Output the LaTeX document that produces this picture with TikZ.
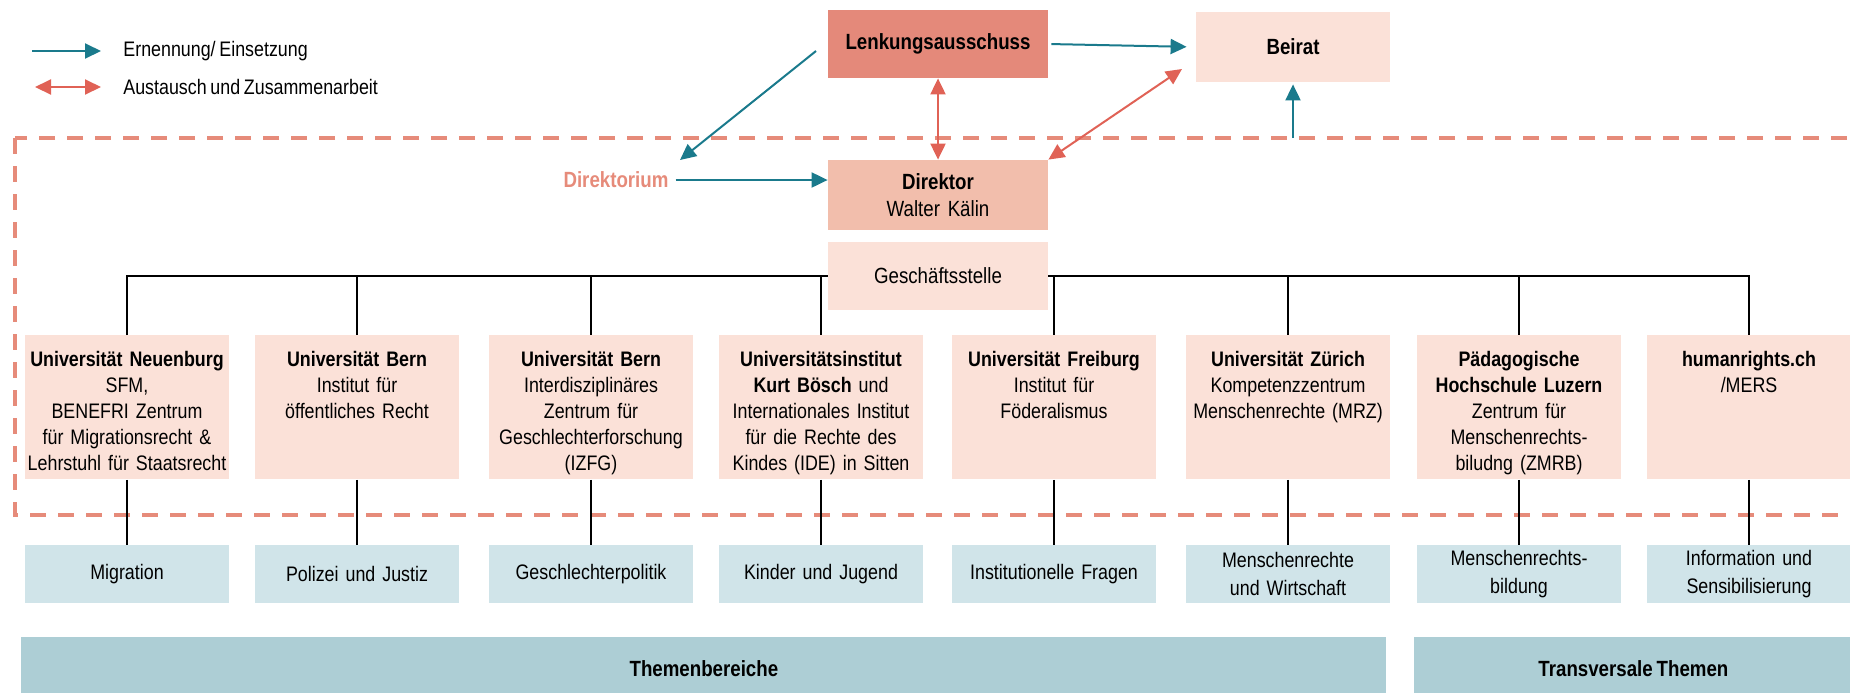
\documentclass[tikz,border=0pt]{standalone}
\usepackage{fontspec}
\setmainfont{Liberation Sans}[FakeStretch=0.85,WordSpace=0.75]
\usetikzlibrary{arrows.meta}
\definecolor{lenkfill}{RGB}{228,137,122}
\definecolor{dirfill}{RGB}{242,190,172}
\definecolor{palefill}{RGB}{251,225,216}
\definecolor{themefill}{RGB}{208,228,233}
\definecolor{barfill}{RGB}{173,206,213}
\definecolor{frameline}{RGB}{230,139,122}
\definecolor{tealline}{RGB}{26,122,140}
\definecolor{redline}{RGB}{224,98,86}
\begin{document}
\begin{tikzpicture}[x=0.5pt,y=-0.5pt,
		leitbox/.style={fill=#1,inner sep=0pt,minimum width=110pt,minimum height=34pt,align=center,font=\fontsize{11}{13.5}\selectfont},
		uni/.style={fill=palefill,anchor=north,inner sep=0pt,text width=102pt,align=center,text height=15.5pt,text depth=56.5pt,font=\fontsize{10.5}{13}\selectfont},
		thema/.style={fill=themefill,anchor=north,inner sep=0pt,minimum width=102pt,minimum height=29pt,text width=102pt,align=center,font=\fontsize{10.5}{14}\selectfont},
		feldbar/.style={fill=barfill,anchor=north west,inner sep=0pt,minimum height=31.5pt,font=\fontsize{11}{13}\selectfont\bfseries},
		legende/.style={anchor=west,inner sep=0pt,font=\fontsize{10.5}{13}\selectfont},
		linie/.style={draw=black,line width=0.8pt},
		ernennung/.style={draw=tealline,line width=1pt,-{Triangle[length=8pt,width=7.5pt]}},
		austausch/.style={draw=redline,line width=1pt,{Triangle[length=8pt,width=7.5pt]}-{Triangle[length=8pt,width=7.5pt]}}]
	\useasboundingbox (0,0) rectangle (1850,692);
	\coordinate (e1) at (32,51);
	\coordinate (e2) at (101,51);
	\coordinate (a1) at (35,87);
	\coordinate (a2) at (101,87);
	\coordinate (lw) at (816,51);
	\coordinate (dw) at (680,160);
	\coordinate (bsw) at (1182,69);
	\coordinate (bus) at (0,276);
	\coordinate (ftop) at (0,138);
	\draw[frameline,line width=1.8pt,dash pattern=on 8pt off 6pt] (15,138) rectangle (1870,515);
	\draw[ernennung] (e1) to (e2);
	\draw[austausch] (a1) to (a2);
	\node[legende] (le) at (123,51) {Ernennung/ Einsetzung};
	\node[legende] (la) at (123,87) {Austausch und Zusammenarbeit};
	\node[leitbox=lenkfill] (lenk) at (938,44) {\textbf{Lenkungsausschuss}};
	\node[leitbox=palefill,minimum width=97pt,minimum height=35pt] (beirat) at (1293,47) {\textbf{Beirat}};
	\node[leitbox=dirfill,minimum height=35pt] (dir) at (938,195) {\textbf{Direktor}\\Walter~~Kälin};
	\node[leitbox=palefill] (gs) at (938,276) {Geschäftsstelle};
	\node[text=frameline,font=\fontsize{11}{13}\selectfont\bfseries] (dtm) at (616,180) {Direktorium};
	\draw[ernennung,shorten <=1.5pt,shorten >=4.5pt] (lenk.east) to (beirat.west);
	\draw[ernennung] (lw) to (dw);
	\draw[ernennung] (dtm.east) to (dtm.east -| dir.west);
	\draw[ernennung,shorten >=1pt] (beirat.south |- ftop) to (beirat.south);
	\draw[austausch] (lenk.south) to (dir.north);
	\draw[austausch] (dir.north east) to (bsw);
	\node[uni] (u1) at (127,335) {\textbf{Universität Neuenburg}\\SFM,\\BENEFRI Zentrum\\für Migrationsrecht \&\\Lehrstuhl für Staatsrecht};
	\node[uni] (u2) at (357,335) {\textbf{Universität Bern}\\Institut für\\öffentliches Recht};
	\node[uni] (u3) at (591,335) {\textbf{Universität Bern}\\Interdisziplinäres\\Zentrum für\\Geschlechterforschung\\(IZFG)};
	\node[uni] (u4) at (821,335) {\textbf{Universitätsinstitut}\\\textbf{Kurt Bösch} und\\Internationales Institut\\für die Rechte des\\Kindes (IDE) in Sitten};
	\node[uni] (u5) at (1054,335) {\textbf{Universität Freiburg}\\Institut für\\Föderalismus};
	\node[uni] (u6) at (1288,335) {\textbf{Universität Zürich}\\Kompetenzzentrum\\Menschenrechte (MRZ)};
	\node[uni] (u7) at (1519,335) {\textbf{Pädagogische}\\\textbf{Hochschule Luzern}\\Zentrum für\\Menschenrechts-\\biludng (ZMRB)};
	\node[uni] (u8) at (1749,335) {\textbf{humanrights.ch}\\/MERS};
	\node[thema] (t1) at (127,545) {Migration};
	\node[thema] (t2) at (357,545) {Polizei und Justiz};
	\node[thema] (t3) at (591,545) {Geschlechterpolitik};
	\node[thema] (t4) at (821,545) {Kinder und Jugend};
	\node[thema] (t5) at (1054,545) {Institutionelle Fragen};
	\node[thema] (t6) at (1288,545) {Menschenrechte\\und Wirtschaft};
	\node[thema] (t7) at (1519,545) {Menschenrechts-\\bildung};
	\node[thema] (t8) at (1749,545) {Information und\\Sensibilisierung};
	\node[feldbar,minimum width=682.5pt] (tb) at (21,637) {Themenbereiche};
	\node[feldbar,minimum width=219pt] (tt) at (1414,637) {Transversale Themen};
	\draw[linie] (u1.north) to (u1.north |- bus) to (gs.west);
	\draw[linie] (gs.east) to (u8.north |- bus) to (u8.north);
	\draw[linie] (u2.north |- bus) to (u2.north);
	\draw[linie] (u3.north |- bus) to (u3.north);
	\draw[linie] (u4.north |- bus) to (u4.north);
	\draw[linie] (u5.north |- bus) to (u5.north);
	\draw[linie] (u6.north |- bus) to (u6.north);
	\draw[linie] (u7.north |- bus) to (u7.north);
	\draw[linie] (u1.south) to (t1.north);
	\draw[linie] (u2.south) to (t2.north);
	\draw[linie] (u3.south) to (t3.north);
	\draw[linie] (u4.south) to (t4.north);
	\draw[linie] (u5.south) to (t5.north);
	\draw[linie] (u6.south) to (t6.north);
	\draw[linie] (u7.south) to (t7.north);
	\draw[linie] (u8.south) to (t8.north);
\end{tikzpicture}
\end{document}
